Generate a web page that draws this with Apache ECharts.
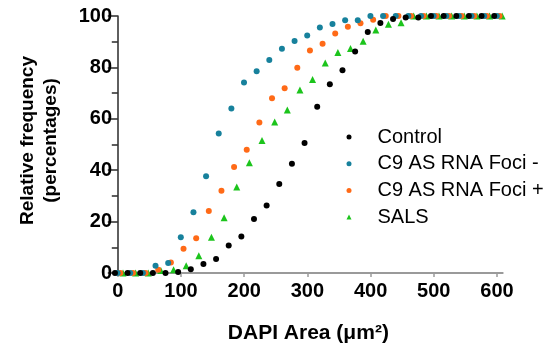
<!DOCTYPE html>
<html>
<head>
<meta charset="utf-8">
<script src="https://cdn.jsdelivr.net/npm/echarts@6/dist/echarts.min.js"></script>
<style>
  html, body { margin: 0; padding: 0; background: #fff; }
  #chart { width: 553px; height: 349px; }
</style>
</head>
<body>
<div id="chart"></div>
<script>
// Cumulative distribution of nuclear (DAPI) area, 20 µm² bins
const areaBins = [0, 20, 40, 60, 80, 100, 120, 140, 160, 180, 200, 220, 240, 260, 280, 300,
                  320, 340, 360, 380, 400, 420, 440, 460, 480, 500, 520, 540, 560, 580, 600];

const controlPct = [0, 0, 0, 0, 0, 0.4, 1.5, 3.5, 5.4, 10.7, 14.2, 21.0, 26.3, 34.6, 42.5, 50.6,
                    64.7, 73.4, 78.9, 86.2, 93.8, 97.3, 98.8, 99.4, 99.4, 100, 100, 100, 100, 100, 100];
const fociNegPct = [0, 0, 0, 2.8, 3.9, 13.9, 23.6, 37.6, 54.3, 64.0, 74.1, 78.5, 82.9, 87.3, 90.3, 92.4,
                    95.5, 96.9, 98.3, 98.3, 100, 100, 100, 100, 100, 100, 100, 100, 100, 100, 100];
const fociPosPct = [0, 0, 0, 1.3, 4.1, 9.4, 13.5, 24.1, 32.0, 41.2, 48.0, 58.6, 68.0, 71.9, 79.9, 86.6,
                    89.2, 93.2, 95.8, 97.2, 98.5, 100, 100, 100, 100, 100, 100, 100, 100, 100, 100];
const salsPct    = [0, 0, 0, 1.0, 1.3, 2.8, 6.7, 13.9, 21.5, 33.5, 42.9, 51.6, 58.8, 63.4, 71.2, 75.3,
                    81.7, 85.8, 87.4, 90.2, 94.6, 96.8, 97.4, 100, 100, 100, 100, 100, 100, 100, 100];

const xTicks = [0, 100, 200, 300, 400, 500, 600];
const yMajorStep = 20;

// Groups are nudged sideways so overlapping points stay visible
const groups = [
  { name: 'Control',            values: controlPct, color: '#000000', symbol: 'circle',   size: 6, nudge: -4.5, z: 5 },
  { name: 'C9 AS RNA Foci -',   values: fociNegPct, color: '#17819c', symbol: 'circle',   size: 6, nudge: -0.3, z: 4 },
  { name: 'C9 AS RNA Foci +',   values: fociPosPct, color: '#ff6a17', symbol: 'circle',   size: 6, nudge: 4.0,  z: 3 },
  { name: 'SALS',               values: salsPct,    color: '#1cc41c', symbol: 'triangle', size: 7, nudge: 8.2,  z: 2 }
];

const font = '"Liberation Sans", Arial, Helvetica, sans-serif';
const chart = echarts.init(document.getElementById('chart'), null, { renderer: 'canvas' });

chart.setOption({
  animation: false,
  backgroundColor: '#ffffff',
  textStyle: { fontFamily: font },
  grid: { left: 114, right: 50.3, top: 16, bottom: 74.5, containLabel: false },
  legend: {
    orient: 'vertical',
    left: 341.5,
    top: 122,
    itemWidth: 5,
    itemHeight: 5,
    itemGap: 6.7,
    data: groups.map(g => g.name),
    textStyle: { fontFamily: font, fontSize: 20, color: '#000', lineHeight: 20, padding: [0, 0, 0, 21] }
  },
  xAxis: {
    type: 'value',
    min: -6,
    max: 609,
    name: 'DAPI Area (μm²)',
    nameLocation: 'middle',
    nameGap: 50,
    nameTextStyle: { fontFamily: font, fontSize: 21, fontWeight: 'bold', color: '#000' },
    axisLine: { onZero: false, lineStyle: { color: '#9a9a9a', width: 2 } },
    axisTick: { show: true, length: 4, lineStyle: { color: '#9a9a9a', width: 1.5 }, customValues: xTicks },
    axisLabel: { fontFamily: font, fontSize: 20, fontWeight: 'bold', color: '#000', margin: 8, customValues: xTicks },
    splitLine: { show: false }
  },
  yAxis: {
    type: 'value',
    min: 0,
    max: 100,
    interval: yMajorStep,
    name: 'Relative frequency\n(percentages)',
    nameLocation: 'middle',
    nameRotate: 90,
    nameGap: 52,
    nameTextStyle: { fontFamily: font, fontSize: 19, fontWeight: 'bold', color: '#000', lineHeight: 23, padding: [0, 0, 0, 8] },
    axisLine: { show: true, lineStyle: { color: '#2a2a2a', width: 1.5 } },
    axisTick: { show: true, length: 10, lineStyle: { color: '#2a2a2a', width: 1.5 } },
    minorTick: { show: true, splitNumber: 2, length: 6, lineStyle: { color: '#2a2a2a', width: 1.5 } },
    axisLabel: { fontFamily: font, fontSize: 20, fontWeight: 'bold', color: '#000', margin: 2 },
    splitLine: { show: false }
  },
  series: groups.map(g => ({
    name: g.name,
    type: 'scatter',
    z: g.z,
    symbol: g.symbol,
    symbolSize: g.size,
    itemStyle: { color: g.color, opacity: 1 },
    emphasis: { disabled: true },
    data: areaBins.map((b, i) => [b + g.nudge, g.values[i]])
  }))
});
</script>
</body>
</html>
